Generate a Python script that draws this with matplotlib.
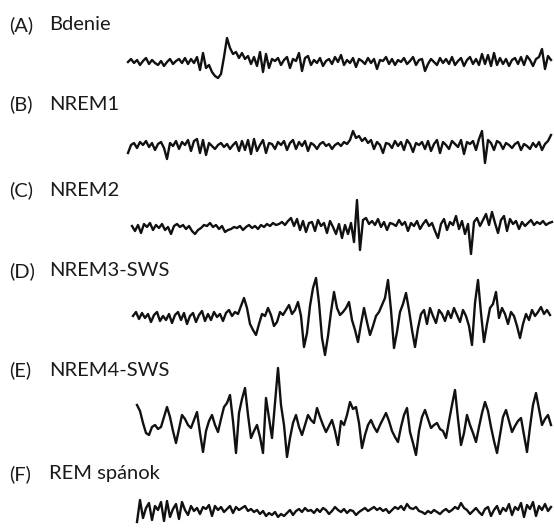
import matplotlib.pyplot as plt
import numpy as np

# stage labels
tags = ['(A)', '(B)', '(C)', '(D)', '(E)', '(F)']
names = ['Bdenie', 'NREM1', 'NREM2', 'NREM3-SWS', 'NREM4-SWS', 'REM spánok']

# traced EEG amplitudes (arbitrary units, up = positive), one sample every 3 px
bdenie = [
    0, 3, -1, 2, -3, 1, 4, -2, 2, -1,
    -3, 1, -4, 0, 3, -2, 1, 3, -1, 4,
    -2, 3, -1, 5, -8, 9, -6, -3, -10, -14,
    -16, -12, 5, 24, 14, 8, 10, 4, 9, 3,
    6, -2, 5, -4, 10, -10, 8, -6, 3, 1,
    4, -3, 2, 5, -6, 3, 1, 9, -9, 4,
    6, -3, 2, -1, 4, -4, 1, 3, -2, 5,
    0, 7, -3, 2, -1, 4, -5, 3, 1, -2,
    4, -1, 3, -7, 2, 1, 5, -2, 3, -3,
    2, 0, 4, -2, 1, 5, -3, 2, 3, -9,
    -2, 3, 0, -3, 4, -1, 3, -2, 5, -3,
    1, 4, -4, 2, 5, -2, 3, -3, 8, -2,
    7, -4, 9, -3, 4, -2, 3, -4, 2, 4,
    -2, 5, -3, 6, 2, -4, 3, 5, 13, -7, 6, 2,
]
nrem1 = [
    -6, 2, 4, -1, 5, 2, 6, 0, 4, -3,
    3, 5, -1, -12, 4, 1, 6, -2, 5, 2,
    7, -4, 6, 8, -6, 7, -8, 4, 1, -2,
    2, 4, 0, 3, -2, 2, 5, -4, 6, -3,
    7, -7, 8, -4, 2, 7, -6, 4, 3, -2,
    5, 2, 6, -3, 4, 7, -2, 5, 1, 6,
    -4, 4, 2, -2, 3, 5, 1, 3, -2, 2,
    4, 1, 5, 3, 7, 16, 9, 11, 6, 9,
    4, 7, -2, 5, 2, -6, 4, 3, -1, 6,
    1, 5, -3, 7, 3, -5, 4, 2, 5, -2,
    6, -4, 3, 7, -6, 5, 2, -2, 6, 3,
    0, 7, -7, 5, 3, 6, -3, 8, 16, -16,
    7, 4, -3, 6, 4, -2, 4, 2, -1, 3,
    5, -3, 3, 1, -2, 4, 0, 5, -3, 3, 6, 12,
]
nrem2 = [
    2, -3, 3, -5, 4, 1, 5, -2, 3, 0,
    4, -2, 1, -6, 2, 4, 1, 3, -1, 2,
    -3, -6, -2, 0, 3, 2, 5, 1, 3, -1,
    2, -4, -2, -1, 1, 0, 2, -2, 1, 3,
    0, 2, -1, 3, 1, 4, 2, 5, 3, 4,
    6, 3, 7, 10, 2, 9, -2, 7, -4, 5,
    6, -3, 8, 2, 5, -5, 7, 1, -6, 4,
    -10, 3, -6, 5, -14, 28, -22, 8, 10, 4,
    7, 3, 9, 1, 6, -2, 5, 4, 2, 8,
    3, 6, -3, 5, 2, 7, -1, 4, 8, 2,
    5, -3, -10, 4, 9, -2, 6, 3, 12, -1,
    7, -6, 4, -26, 6, 10, 2, 8, 14, 3,
    16, 5, -5, 8, 12, -3, 9, 4, 7, -1,
    6, 2, 5, 8, 3, 6, 4, 7, 3, 5, 6,
]
nrem3 = [
    2, 6, -1, 5, 0, 4, -4, 3, 6, -3,
    2, -2, 4, -5, 3, 6, -2, 5, -6, 2,
    5, -4, 3, 7, -3, 4, -2, 6, 1, 4,
    -3, 5, 8, 2, 6, 4, 12, 20, 10, -6,
    -12, -17, -6, 4, 2, 10, 3, -8, -4, 6,
    3, 8, 13, 4, 8, 16, 2, -29, -15, 12,
    30, 40, 15, -20, -37, -18, 6, 26, 10, 3,
    6, 10, 16, -2, -12, -24, -6, 10, -4, -17,
    -8, 2, 6, 13, 20, 38, 8, -30, -14, 6,
    14, 25, 8, -12, -29, -10, 4, 8, -6, 10,
    2, -5, 8, 4, -3, 7, 0, 10, 3, -4,
    8, 2, -8, -27, 15, 38, 5, -24, -6, 10,
    14, 26, 0, 10, 4, -6, 6, 2, -8, -20,
    -6, 4, -2, 8, 2, 6, 11, 4, 8, 3,
]
nrem4 = [
    18, 12, 0, -10, -12, -4, -2, -6, -4, 6,
    16, 6, -8, -20, -6, 8, 4, -2, -5, 3,
    11, -10, -29, -8, 2, 8, -2, -9, 4, 16,
    20, 28, 2, -30, 10, 24, 35, 8, -15, -8,
    -2, -14, -30, 25, 5, -15, 20, 55, 18, -2,
    -34, -15, 0, 8, -4, -12, -2, 8, 3, 0,
    15, 6, -2, -9, -3, 3, -8, -22, 2, -2,
    8, 21, 14, 16, 0, -25, -12, -2, 3, -4,
    -9, -2, 4, 10, 2, -8, -14, -19, -4, 8,
    15, -9, -20, -32, -8, 6, 13, 4, -5, -2,
    0, -6, -8, -15, 2, 18, 33, 4, -22, -10,
    8, -2, -10, -19, -4, 10, 21, 12, -4, -18,
    -30, -12, 6, 13, 2, -9, -3, 2, 5, -12,
    -29, -4, 18, 30, 14, -2, 4, 8, -2,
]
rem = [
    -10, 12, -6, 4, 9, -8, 6, 2, 10, -9,
    11, -5, 3, 8, -7, 10, 2, -3, 6, 1,
    4, -2, 5, 3, 7, -4, 6, 2, 5, 0,
    3, 6, -1, 5, 2, 4, 6, 1, 3, 0,
    2, -2, 1, -4, -1, -3, 0, -5, -2, -4,
    -1, 2, -3, 1, 3, 0, 4, 1, 2, -1,
    3, 0, 4, 2, -2, 1, 5, 2, 0, 3,
    -1, 2, 1, -3, 0, 2, 4, 1, 3, 5,
    2, 4, 1, 3, -1, 2, 5, 3, 6, 2,
    8, 4, 3, 5, 1, 0, -2, 1, -1, 2,
    0, -2, 1, 3, 0, 2, 5, 3, 9, 4,
    2, -2, 1, 4, 0, -3, 3, 5, -4, 2,
    6, -2, 4, 1, 8, -3, 5, 2, 9, -5,
    7, 3, 10, -4, 6, 2, 8, 1, 5,
]
traces = [bdenie, nrem1, nrem2, nrem3, nrem4, rem]

# layout (pixel space)
W, H = 554, 530
label_y = [25, 104, 190, 271, 370, 474]
trace_x0 = [128, 128, 132, 133, 137, 137]
baseline = [62, 147, 228, 318, 423, 512]
step = 3

fig = plt.figure(figsize=(W / 100, H / 100), dpi=100)
ax = fig.add_axes([0, 0, 1, 1])
ax.set_xlim(0, W)
ax.set_ylim(H, 0)
ax.axis('off')

for i, vals in enumerate(traces):
    v = np.asarray(vals, dtype=float)
    x = trace_x0[i] + step * np.arange(len(v))
    ax.plot(x, baseline[i] - v, color='#111111', lw=1.7,
            solid_joinstyle='round')
    ax.text(9, label_y[i], tags[i], fontsize=14.5, family='Lato',
            va='center', ha='left', color='#1a1a1a')
    ax.text(49, label_y[i], names[i], fontsize=14.5, family='Lato',
            va='center', ha='left', color='#1a1a1a')

fig.savefig('out.png', dpi=100, facecolor='white')
